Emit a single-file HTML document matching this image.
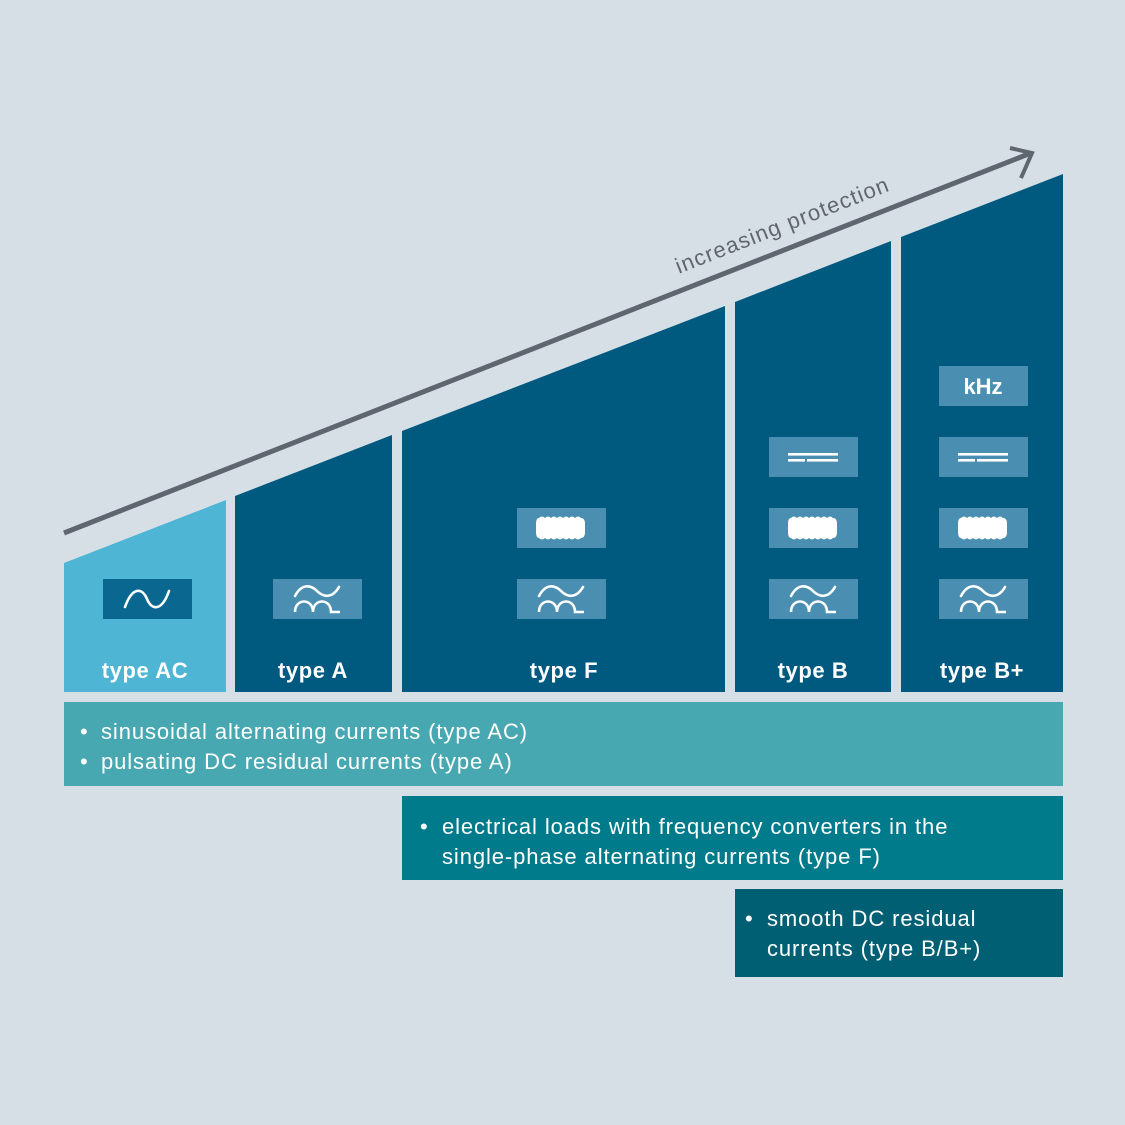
<!DOCTYPE html>
<html><head><style>
body{margin:0;width:1125px;height:1125px;background:#d6dfe6;overflow:hidden;font-family:"Liberation Sans",sans-serif}
</style></head><body>
<svg width="1125" height="1125" xmlns="http://www.w3.org/2000/svg" style="position:absolute;left:0;top:0">
<defs>
<g id="wave"><path d="M-22,8 C-15,-12 -5,-12 0,0 C5,12 15,12 22,-8" fill="none" stroke="#fff" stroke-width="2.6" stroke-linecap="round"/></g>
<g id="puls">
<path d="M-22,-3 C-15,-16 -6,-14 0,-8 C6,-2 15,0 22,-12" fill="none" stroke="#fff" stroke-width="2.6" stroke-linecap="round"/>
<path d="M-22,13 C-22,-1 -4,-1 -4,13 M-4,13 C-4,-1 14,-1 14,13 L23,13" fill="none" stroke="#fff" stroke-width="2.6"/>
</g>
<g id="ripple"><path d="M-22,-10 Q-19,-13 -16,-10 Q-13,-13 -10,-10 Q-7,-13 -4,-10 Q-1,-13 2,-10 Q5,-13 8,-10 Q11,-13 14,-10 Q17,-13 20,-10 Q24,-10 24,-4 L24,4 Q24,10 20,10 Q17,13 14,10 Q11,13 8,10 Q5,13 2,10 Q-1,13 -4,10 Q-7,13 -10,10 Q-13,13 -16,10 Q-19,13 -22,10 Q-25,10 -25,4 L-25,-4 Q-25,-10 -22,-10Z" fill="#fff"/></g>
<g id="dc"><rect x="-25" y="-4" width="50" height="2.6" fill="#fff"/><rect x="-25" y="2" width="17" height="2.6" fill="#fff"/><rect x="-6" y="2" width="31" height="2.6" fill="#fff"/></g>
</defs>
<polygon points="64,563 226,500 226,692 64,692" fill="#4fb5d4"/>
<polygon points="235,496 392,435 392,692 235,692" fill="#005a80"/>
<polygon points="402,431 725,306 725,692 402,692" fill="#005a80"/>
<polygon points="735,302 891,241 891,692 735,692" fill="#005a80"/>
<polygon points="901,237 1063,174 1063,692 901,692" fill="#005a80"/>
<line x1="64" y1="533" x2="1031" y2="153" stroke="#5f6670" stroke-width="5"/>
<polyline points="1010,148 1032,153 1021,178" fill="none" stroke="#5f6670" stroke-width="4"/>
<text x="785" y="232" transform="rotate(-21.5 785 232)" text-anchor="middle" font-size="22" fill="#5f6670" letter-spacing="1.2">increasing protection</text>
<rect x="103" y="579" width="89" height="40" fill="#0a6790"/>
<use href="#wave" x="147" y="599"/>
<g fill="#4a8fb2">
<rect x="273" y="579" width="89" height="40"/>
<rect x="517" y="579" width="89" height="40"/><rect x="517" y="508" width="89" height="40"/>
<rect x="769" y="579" width="89" height="40"/><rect x="769" y="508" width="89" height="40"/><rect x="769" y="437" width="89" height="40"/>
<rect x="939" y="579" width="89" height="40"/><rect x="939" y="508" width="89" height="40"/><rect x="939" y="437" width="89" height="40"/><rect x="939" y="366" width="89" height="40"/>
</g>
<use href="#puls" x="317" y="599"/><use href="#puls" x="561" y="599"/><use href="#puls" x="813" y="599"/><use href="#puls" x="983" y="599"/>
<use href="#ripple" x="561" y="528"/><use href="#ripple" x="813" y="528"/><use href="#ripple" x="983" y="528"/>
<use href="#dc" x="813" y="457"/><use href="#dc" x="983" y="457"/>
<text x="983" y="394" text-anchor="middle" font-size="22" font-weight="bold" fill="#fff">kHz</text>
<g font-size="22" font-weight="bold" fill="#fff" text-anchor="middle" letter-spacing="0.6">
<text x="145" y="678">type AC</text><text x="313" y="678">type A</text><text x="564" y="678">type F</text><text x="813" y="678">type B</text><text x="982" y="678">type B+</text>
</g>
<rect x="64" y="702" width="999" height="84" fill="#48a8b2"/>
<rect x="402" y="796" width="661" height="84" fill="#007b8c"/>
<rect x="735" y="889" width="328" height="88" fill="#005f73"/>
<g font-size="22" fill="#fff" letter-spacing="0.9">
<text x="80" y="739">•</text><text x="101" y="739">sinusoidal alternating currents (type AC)</text>
<text x="80" y="769">•</text><text x="101" y="769">pulsating DC residual currents (type A)</text>
<text x="420" y="834">•</text><text x="442" y="834">electrical loads with frequency converters in the</text>
<text x="442" y="864">single-phase alternating currents (type F)</text>
<text x="745" y="926">•</text><text x="767" y="926">smooth DC residual</text>
<text x="767" y="956">currents (type B/B+)</text>
</g>
</svg>
</body></html>
